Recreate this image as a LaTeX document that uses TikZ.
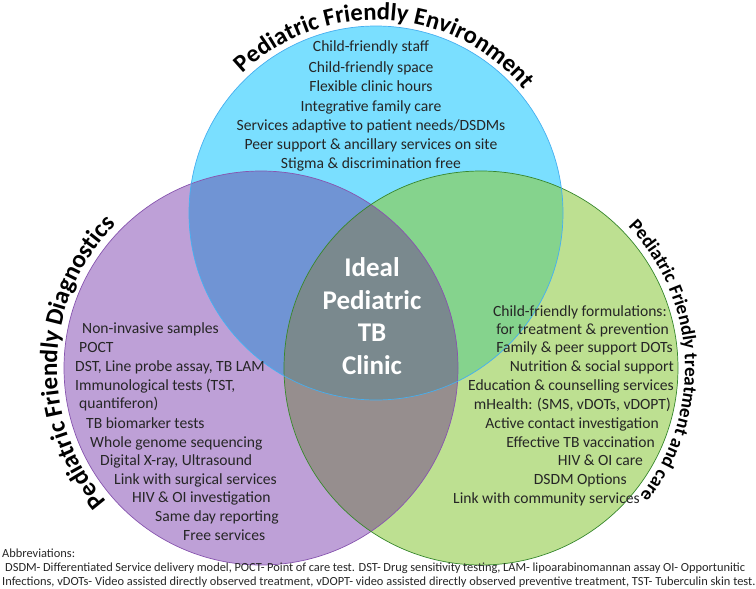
\documentclass[tikz,border=0pt]{standalone}
\usepackage{fontspec}
\setmainfont{Carlito}
\usetikzlibrary{decorations.text}
\definecolor{skyfill}{RGB}{122,223,255}
\definecolor{skyline}{RGB}{70,175,240}
\definecolor{lilacfill}{RGB}{190,160,215}
\definecolor{lilacline}{RGB}{135,85,175}
\definecolor{limefill}{RGB}{189,224,145}
\definecolor{limeline}{RGB}{55,135,45}
\definecolor{skylilac}{RGB}{112,148,212}
\definecolor{skylime}{RGB}{133,211,141}
\definecolor{lilaclime}{RGB}{150,142,142}
\definecolor{slate}{RGB}{122,137,142}

\begin{document}
\begin{tikzpicture}[x=1pt,y=1pt,
    item/.style={inner sep=0pt, text=black!85, font=\fontsize{15.6}{18}\selectfont},
    note/.style={inner sep=0pt, text=black!85, font=\fontsize{12.4}{14}\selectfont},
    arctitle/.style 2 args={decorate, decoration={text along path, text align=center,
        text={|\fontsize{#1}{#1}\selectfont\bfseries|#2}}}]
            \useasboundingbox (0,0) rectangle (756,-589);
            \coordinate (env)   at (376,-213);
            \coordinate (diag)  at (261,-368);
            \coordinate (treat) at (481,-368);
            % circles and their overlaps
            \fill[lilacfill] (diag)  circle[radius=197];
            \fill[limefill]  (treat) circle[radius=197];
            \fill[skyfill]   (env)   circle[radius=187];
            \begin{scope}
                \clip (env) circle[radius=187];
                \fill[skylilac] (diag)  circle[radius=197];
                \fill[skylime]  (treat) circle[radius=197];
            \end{scope}
            \begin{scope}
                \clip (diag) circle[radius=197];
                \fill[lilaclime] (treat) circle[radius=197];
                \clip (treat) circle[radius=197];
                \fill[slate] (env) circle[radius=187];
            \end{scope}
            \draw[lilacline, line width=0.7] (diag)  circle[radius=197];
            \draw[limeline,  line width=0.7] (treat) circle[radius=197];
            \draw[skyline,   line width=0.7] (env)   circle[radius=187];
            % curved titles
            \path[arctitle={24.6}{Pediatric Friendly Environment}]
                ([shift={(166.7:193)}]env) arc[start angle=166.7, end angle=6.7, radius=193];
            \path[arctitle={25}{Pediatric Friendly Diagnostics}]
                ([shift={(243:204)}]diag) arc[start angle=243, end angle=113, radius=204];
            \path[arctitle={19}{Pediatric Friendly treatment and care}]
                ([shift={(60:204)}]treat) arc[start angle=60, end angle=-55, radius=204];
            % environment
            \node[item, anchor=base] (envstaff)  at (371,-52)  {Child-friendly staff};
            \node[item, anchor=base] (envspace)  at (371,-72)  {Child-friendly space};
            \node[item, anchor=base] (envhours)  at (371,-91)  {Flexible clinic hours};
            \node[item, anchor=base] (envfamily) at (371,-111) {Integrative family care};
            \node[item, anchor=base] (envdsdm)   at (371,-130) {Services adaptive to patient needs/DSDMs};
            \node[item, anchor=base] (envpeer)   at (371,-149) {Peer support \& ancillary services on site};
            \node[item, anchor=base] (envstigma) at (371,-168) {Stigma \& discrimination free};
            % diagnostics
            \node[item, anchor=base west] (diagsamples) at (82,-333)  {Non-invasive samples};
            \node[item, anchor=base west] (diagpoct)    at (79,-352)  {POCT};
            \node[item, anchor=base west] (diagdst)     at (75,-371)  {DST, Line probe assay, TB LAM};
            \node[item, anchor=base west] (diagimmuno)  at (75,-390)  {Immunological tests (TST,};
            \node[item, anchor=base west] (diagquanti)  at (79,-408)  {quantiferon)};
            \node[item, anchor=base west] (diagmarker)  at (86,-428)  {TB biomarker tests};
            \node[item, anchor=base west] (diaggenome)  at (90,-447)  {Whole genome sequencing};
            \node[item, anchor=base west] (diagxray)    at (100,-465) {Digital X-ray, Ultrasound};
            \node[item, anchor=base west] (diagsurgery) at (114,-484) {Link with surgical services};
            \node[item, anchor=base west] (diaghiv)     at (132,-502) {HIV \& OI investigation};
            \node[item, anchor=base west] (diagsameday) at (155,-521) {Same day reporting};
            \node[item, anchor=base west] (diagfree)    at (183,-540) {Free services};
            % treatment and care
            \node[item, anchor=base east] (treatform)    at (667,-316) {Child-friendly formulations:};
            \node[item, anchor=base east] (treatprev)    at (669,-334) {for treatment \& prevention};
            \node[item, anchor=base east] (treatdots)    at (673,-352) {Family \& peer support DOTs};
            \node[item, anchor=base east] (treatfood)    at (674,-371) {Nutrition \& social support};
            \node[item, anchor=base east] (treatcounsel) at (674,-390) {Education \& counselling services};
            \node[item, anchor=base east] (treatmhealth) at (671,-409) {mHealth: (SMS, vDOTs, vDOPT)};
            \node[item, anchor=base east] (treatcontact) at (659,-428) {Active contact investigation};
            \node[item, anchor=base east] (treatvaccine) at (655,-447) {Effective TB vaccination};
            \node[item, anchor=base east] (treathiv)     at (643,-465) {HIV \& OI care};
            \node[item, anchor=base east] (treatdsdm)    at (627,-484) {DSDM Options};
            \node[item, anchor=base east] (treatlink)    at (640,-503) {Link with community services};
            % centre
            \node[align=center, text=white, font=\fontsize{27}{32.5}\selectfont\bfseries]
                (clinic) at (372,-316) {Ideal\\Pediatric\\TB\\Clinic};
            % abbreviations
            \node[note, anchor=base west] (abbrevhead) at (2,-557) {Abbreviations:};
            \node[note, anchor=base west] (abbrevone)  at (5,-571)
                {\makebox[740pt][s]{DSDM- Differentiated Service delivery model, POCT- Point of care test. DST- Drug sensitivity testing, LAM- lipoarabinomannan assay OI- Opportunitic}};
            \node[note, anchor=base west] (abbrevtwo)  at (2,-585)
                {Infections, vDOTs- Video assisted directly observed treatment, vDOPT- video assisted directly observed preventive treatment, TST- Tuberculin skin test.};
        \end{tikzpicture}
\end{document}
